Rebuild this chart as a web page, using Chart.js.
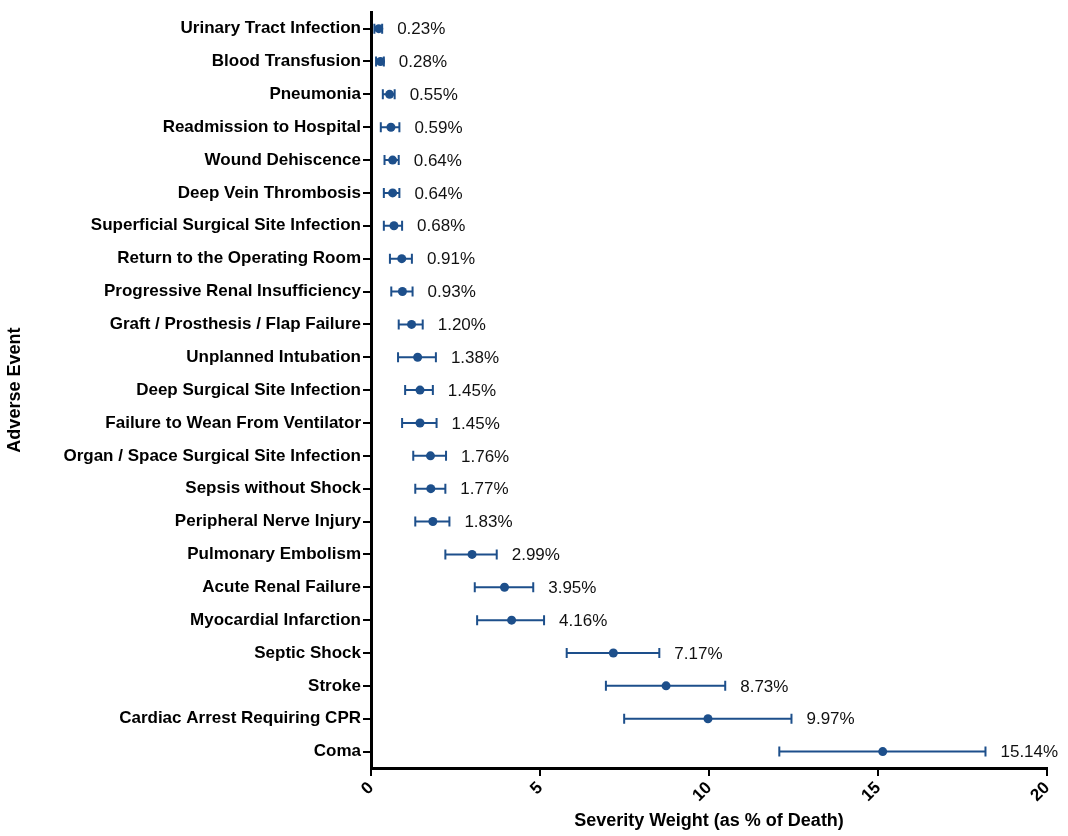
<!DOCTYPE html>
<html>
<head>
<meta charset="utf-8">
<script src="https://cdn.jsdelivr.net/npm/chart.js@4/dist/chart.umd.min.js"></script>
<style>
  html, body { margin: 0; padding: 0; background: #fff; }
  #wrap { width: 1068px; height: 836px; }
</style>
</head>
<body>
<div id="wrap"><canvas id="c" width="1068" height="836"></canvas></div>
<script>
// Adverse events, ordered as listed from top to bottom
const categories = [
  'Urinary Tract Infection',
  'Blood Transfusion',
  'Pneumonia',
  'Readmission to Hospital',
  'Wound Dehiscence',
  'Deep Vein Thrombosis',
  'Superficial Surgical Site Infection',
  'Return to the Operating Room',
  'Progressive Renal Insufficiency',
  'Graft / Prosthesis / Flap Failure',
  'Unplanned Intubation',
  'Deep Surgical Site Infection',
  'Failure to Wean From Ventilator',
  'Organ / Space Surgical Site Infection',
  'Sepsis without Shock',
  'Peripheral Nerve Injury',
  'Pulmonary Embolism',
  'Acute Renal Failure',
  'Myocardial Infarction',
  'Septic Shock',
  'Stroke',
  'Cardiac Arrest Requiring CPR',
  'Coma'
];

// Severity weight (as % of death)
const severity = [0.23, 0.28, 0.55, 0.59, 0.64, 0.64, 0.68, 0.91, 0.93, 1.20, 1.38, 1.45,
                  1.45, 1.76, 1.77, 1.83, 2.99, 3.95, 4.16, 7.17, 8.73, 9.97, 15.14];

// Interval bounds around each estimate
const lower = [0.10, 0.15, 0.35, 0.29, 0.40, 0.38, 0.38, 0.56, 0.60, 0.82, 0.80, 1.01,
               0.92, 1.25, 1.31, 1.31, 2.20, 3.07, 3.14, 5.79, 6.95, 7.49, 12.08];
const upper = [0.33, 0.38, 0.70, 0.84, 0.82, 0.84, 0.92, 1.21, 1.23, 1.53, 1.92, 1.83,
               1.94, 2.22, 2.20, 2.32, 3.72, 4.80, 5.12, 8.53, 10.48, 12.44, 18.18];

const xTicks = [0, 5, 10, 15, 20];

const BLUE = '#1d4f8b';
const FONT = "'Liberation Sans', Arial, Helvetica, sans-serif";

// Horizontal interval whiskers with end caps, drawn beneath the points
const whiskers = {
  id: 'whiskers',
  beforeDatasetsDraw(chart) {
    const { ctx, scales: { x, y } } = chart;
    ctx.save();
    ctx.strokeStyle = BLUE;
    ctx.lineWidth = 2;
    const cap = 5;
    categories.forEach((cat, i) => {
      const py = y.getPixelForValue(i);
      const x0 = x.getPixelForValue(lower[i]);
      const x1 = x.getPixelForValue(upper[i]);
      ctx.beginPath();
      ctx.moveTo(x0, py); ctx.lineTo(x1, py);
      ctx.moveTo(x0, py - cap); ctx.lineTo(x0, py + cap);
      ctx.moveTo(x1, py - cap); ctx.lineTo(x1, py + cap);
      ctx.stroke();
    });
    ctx.restore();
  },
  // Value labels just past the upper end of each whisker
  afterDatasetsDraw(chart) {
    const { ctx, scales: { x, y } } = chart;
    ctx.save();
    ctx.fillStyle = '#111';
    ctx.font = '17px ' + FONT;
    ctx.textAlign = 'left';
    ctx.textBaseline = 'middle';
    categories.forEach((cat, i) => {
      const py = y.getPixelForValue(i);
      const px = x.getPixelForValue(upper[i]) + 15;
      ctx.fillText(severity[i].toFixed(2) + '%', px, py + 1);
    });
    ctx.restore();
  }
};

new Chart(document.getElementById('c'), {
  type: 'line',
  data: {
    labels: categories,
    datasets: [{
      data: severity,
      showLine: false,
      pointRadius: 4.5,
      pointHoverRadius: 4.5,
      pointBackgroundColor: BLUE,
      pointBorderColor: BLUE,
      pointBorderWidth: 0
    }]
  },
  options: {
    indexAxis: 'y',
    responsive: false,
    animation: false,
    events: [],
    layout: { padding: { top: 12, right: 21, bottom: 0, left: 0 } },
    plugins: {
      legend: { display: false },
      tooltip: { enabled: false }
    },
    scales: {
      x: {
        type: 'linear',
        min: 0,
        max: 20,
        afterBuildTicks(scale) { scale.ticks = xTicks.map(v => ({ value: v })); },
        afterFit(scale) { scale.height = 68; },
        border: { display: true, color: '#000', width: 3 },
        grid: { drawOnChartArea: false, drawTicks: true, tickLength: 8, color: '#000', lineWidth: 2 },
        ticks: {
          color: '#000',
          font: { family: FONT, size: 17, weight: 'bold' },
          minRotation: 45,
          maxRotation: 45,
          padding: 2
        },
        title: {
          display: true,
          text: 'Severity Weight (as % of Death)',
          color: '#000',
          font: { family: FONT, size: 18, weight: 'bold' },
          padding: { top: 4, bottom: 4 }
        }
      },
      y: {
        type: 'category',
        offset: true,
        afterFit(scale) { scale.width = 371; },
        border: { display: true, color: '#000', width: 3 },
        grid: { drawOnChartArea: false, drawTicks: true, tickLength: 8, color: '#000', lineWidth: 2, offset: false },
        ticks: {
          color: '#000',
          font: { family: FONT, size: 17, weight: 'bold' },
          padding: 2,
          autoSkip: false
        },
        title: {
          display: true,
          text: 'Adverse Event',
          color: '#000',
          font: { family: FONT, size: 18, weight: 'bold' },
          padding: { top: 4, bottom: 4 }
        }
      }
    }
  },
  plugins: [whiskers]
});
</script>
</body>
</html>
